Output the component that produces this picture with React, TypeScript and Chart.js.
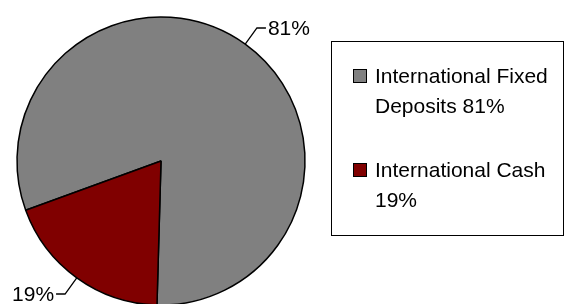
import React, { useEffect, useRef } from "react";
import { Chart, registerables } from "chart.js";

Chart.register(...registerables);

const categories = ["International Fixed Deposits", "International Cash"];
const values = [81, 19];
const colors = ["#808080", "#800000"];

const FONT = '"Liberation Sans", Arial, sans-serif';

function wrapText(ctx: CanvasRenderingContext2D, text: string, maxW: number): string[] {
  const words = text.split(" ");
  const lines: string[] = [];
  let cur = "";
  for (const w of words) {
    const test = cur ? cur + " " + w : w;
    if (cur && ctx.measureText(test).width > maxW) {
      lines.push(cur);
      cur = w;
    } else {
      cur = test;
    }
  }
  if (cur) lines.push(cur);
  return lines;
}

const labelPlugin = {
  id: "customLabels",
  afterDraw(chart: any) {
    const ctx: CanvasRenderingContext2D = chart.ctx;
    const meta = chart.getDatasetMeta(0);
    const data = chart.data.datasets[0].data as number[];
    const bg = chart.data.datasets[0].backgroundColor as string[];
    ctx.save();
    ctx.font = `21px ${FONT}`;
    ctx.fillStyle = "#000";
    ctx.strokeStyle = "#000";
    ctx.lineWidth = 1.3;
    meta.data.forEach((arc: any, i: number) => {
      const { x, y, startAngle, endAngle, outerRadius } = arc.getProps(
        ["x", "y", "startAngle", "endAngle", "outerRadius"],
        true
      );
      const mid = (startAngle + endAngle) / 2;
      const c = Math.cos(mid);
      const s = Math.sin(mid);
      const ex = x + c * outerRadius;
      const ey = y + s * outerRadius;
      const ox = x + c * (outerRadius + 20);
      const oy = y + s * (outerRadius + 20);
      const dir = c >= 0 ? 1 : -1;
      const hx = ox + dir * 9;
      ctx.beginPath();
      ctx.moveTo(ex, ey);
      ctx.lineTo(ox, oy);
      ctx.lineTo(hx, oy);
      ctx.stroke();
      ctx.textAlign = dir > 0 ? "left" : "right";
      ctx.textBaseline = "middle";
      ctx.fillText(`${data[i]}%`, hx + dir * 2, oy + 1);
    });

    // legend box
    const bx = 331.5, by = 41.5, bw = 232, bh = 194;
    ctx.lineWidth = 1;
    ctx.strokeStyle = "#000";
    ctx.strokeRect(bx, by, bw, bh);
    ctx.textAlign = "left";
    ctx.textBaseline = "alphabetic";
    const labels = chart.data.labels as string[];
    labels.forEach((lab: string, i: number) => {
      const text = `${lab} ${data[i]}%`;
      const lines = wrapText(ctx, text, 182);
      const baseY = 83 + i * 94;
      ctx.fillStyle = bg[i];
      ctx.fillRect(353, baseY - 14, 14, 14);
      ctx.strokeRect(353.5, baseY - 13.5, 13, 13);
      ctx.fillStyle = "#000";
      lines.forEach((ln, j) => {
        ctx.fillText(ln, 375, baseY + j * 29.5);
      });
    });
    ctx.restore();
  },
};

export default function App() {
  const ref = useRef<HTMLCanvasElement>(null);
  useEffect(() => {
    if (!ref.current) return;
    const chart = new Chart(ref.current, {
      type: "pie",
      data: {
        labels: categories,
        datasets: [
          {
            data: values,
            backgroundColor: colors,
            borderColor: "#000",
            borderWidth: 1.5,
          },
        ],
      },
      options: {
        responsive: false,
        animation: false,
        devicePixelRatio: 1,
        rotation: 250,
        radius: 144,
        layout: { padding: { left: 17, right: 263, top: 17, bottom: 15 } },
        plugins: {
          legend: { display: false },
          tooltip: { enabled: false },
        },
      },
      plugins: [labelPlugin],
    });
    return () => chart.destroy();
  }, []);
  return (
    <div style={{ position: "fixed", left: 0, top: 0, width: 568, height: 320, background: "#fff" }}>
      <canvas ref={ref} width={568} height={320} style={{ width: 568, height: 320 }} />
    </div>
  );
}
